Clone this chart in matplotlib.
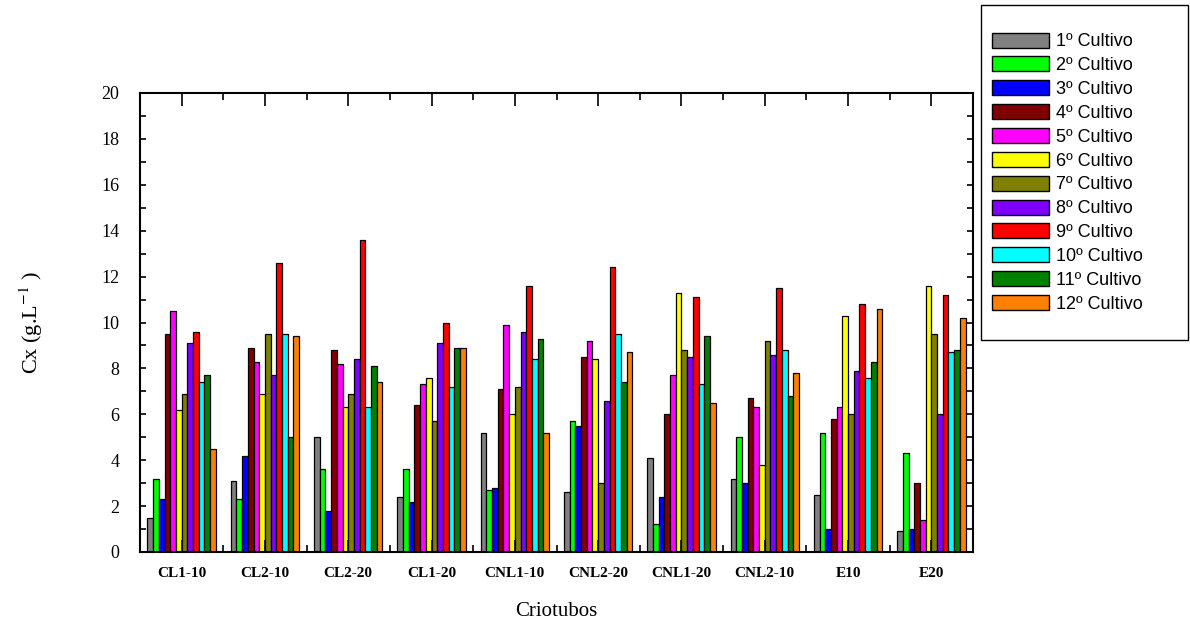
import numpy as np
import matplotlib
matplotlib.use('Agg')
import matplotlib.pyplot as plt
from matplotlib.patches import Rectangle, Patch
from matplotlib.ticker import MultipleLocator, FixedLocator

plt.rcParams['font.family'] = ['Liberation Serif', 'DejaVu Serif']
plt.rcParams['mathtext.fontset'] = 'stix'

# Criotubos avaliados
criotubos = ['CL1-10', 'CL2-10', 'CL2-20', 'CL1-20', 'CNL1-10',
             'CNL2-20', 'CNL1-20', 'CNL2-10', 'E10', 'E20']

# Concentração celular Cx (g/L) de cada cultivo por criotubo
cultivo_1 = [1.5, 3.1, 5.0, 2.4, 5.2, 2.6, 4.1, 3.2, 2.5, 0.9]
cultivo_2 = [3.2, 2.3, 3.6, 3.6, 2.7, 5.7, 1.2, 5.0, 5.2, 4.3]
cultivo_3 = [2.3, 4.2, 1.8, 2.2, 2.8, 5.5, 2.4, 3.0, 1.0, 1.0]
cultivo_4 = [9.5, 8.9, 8.8, 6.4, 7.1, 8.5, 6.0, 6.7, 5.8, 3.0]
cultivo_5 = [10.5, 8.3, 8.2, 7.3, 9.9, 9.2, 7.7, 6.3, 6.3, 1.4]
cultivo_6 = [6.2, 6.9, 6.3, 7.6, 6.0, 8.4, 11.3, 3.8, 10.3, 11.6]
cultivo_7 = [6.9, 9.5, 6.9, 5.7, 7.2, 3.0, 8.8, 9.2, 6.0, 9.5]
cultivo_8 = [9.1, 7.7, 8.4, 9.1, 9.6, 6.6, 8.5, 8.6, 7.9, 6.0]
cultivo_9 = [9.6, 12.6, 13.6, 10.0, 11.6, 12.4, 11.1, 11.5, 10.8, 11.2]
cultivo_10 = [7.4, 9.5, 6.3, 7.2, 8.4, 9.5, 7.3, 8.8, 7.6, 8.7]
cultivo_11 = [7.7, 5.0, 8.1, 8.9, 9.3, 7.4, 9.4, 6.8, 8.3, 8.8]
cultivo_12 = [4.5, 9.4, 7.4, 8.9, 5.2, 8.7, 6.5, 7.8, 10.6, 10.2]

cultivos = [cultivo_1, cultivo_2, cultivo_3, cultivo_4, cultivo_5, cultivo_6,
            cultivo_7, cultivo_8, cultivo_9, cultivo_10, cultivo_11, cultivo_12]
rotulos = [f'{i}º Cultivo' for i in range(1, 13)]
cores = ['#808080', '#00FF00', '#0000FF', '#800000', '#FF00FF', '#FFFF00',
         '#808000', '#8000FF', '#FF0000', '#00FFFF', '#008000', '#FF8000']

W, H = 1190, 624
fig = plt.figure(figsize=(W / 100, H / 100), dpi=100)
ax = fig.add_axes([140 / W, 1 - 552 / H, (973 - 140) / W, (552 - 93) / H])

x = np.arange(len(criotubos))
n = len(cultivos)
larg = 0.82 / n
for i, (vals, cor) in enumerate(zip(cultivos, cores)):
    pos = x - 0.41 + larg * (i + 0.5)
    ax.bar(pos, vals, width=larg, color=cor, edgecolor='black', linewidth=0.9)

ax.set_xlim(-0.5, len(criotubos) - 0.5)
ax.set_ylim(0, 20)
ax.set_xticks(x)
ax.set_xticklabels(criotubos, fontsize=11, fontweight='bold')
ax.xaxis.set_minor_locator(FixedLocator(np.arange(-0.5, len(criotubos), 1.0)))
ax.yaxis.set_major_locator(MultipleLocator(2))
ax.yaxis.set_minor_locator(MultipleLocator(1))
ax.tick_params(axis='both', which='both', direction='in', top=True, right=True, width=1.2)
ax.tick_params(axis='x', which='major', length=9, pad=11)
ax.tick_params(axis='x', which='minor', length=5)
ax.tick_params(axis='y', which='both', length=4)
ax.tick_params(axis='y', which='major', labelsize=13, pad=15)
for s in ax.spines.values():
    s.set_linewidth(1.5)

ax.set_xlabel('Criotubos', fontsize=15, labelpad=16)
ax.set_ylabel(r'Cx (g.L$^{-1}$ )', fontsize=16, labelpad=40)

# legenda com moldura própria
fig.patches.append(Rectangle((981 / W, 1 - 340 / H), 207 / W, 335 / H,
                             transform=fig.transFigure, fill=False,
                             edgecolor='black', linewidth=1.0))
handles = [Patch(facecolor=c, edgecolor='black', linewidth=1.0) for c in cores]
fig.legend(handles, rotulos, loc='upper left',
           bbox_to_anchor=(988 / W, 1 - 29 / H), frameon=False,
           prop={'family': ['Liberation Sans', 'DejaVu Sans'], 'size': 13},
           handlelength=3.2, handleheight=0.9, handletextpad=0.35,
           labelspacing=0.34, borderpad=0.2, borderaxespad=0)

fig.savefig('out.png', dpi=100)
